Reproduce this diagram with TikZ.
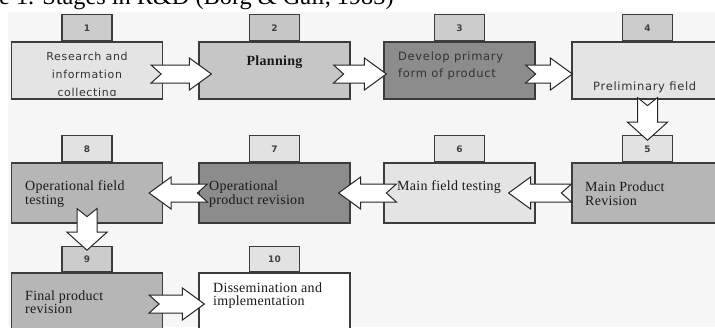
\documentclass[tikz,border=0pt]{standalone}
\usepackage{fontspec}
\setmainfont{Liberation Serif}
\newfontfamily\boxsans[LetterSpace=6]{DejaVu Sans}
\newfontfamily\boxserif[LetterSpace=2]{Liberation Serif}
\newfontfamily\tabsans{DejaVu Sans}
\usetikzlibrary{positioning,calc}

\definecolor{bgpaper}{HTML}{F6F6F6}
\definecolor{lightfill}{HTML}{E4E4E4}
\definecolor{midfill}{HTML}{C6C6C6}
\definecolor{greyfill}{HTML}{B6B6B6}
\definecolor{darkfill}{HTML}{8C8C8C}
\definecolor{tabfill}{HTML}{CCCCCC}
\definecolor{tablight}{HTML}{E2E2E2}
\definecolor{edge}{HTML}{3C3C3C}

% block arrow with a notched tail, from #1 to #2
\def\aw{9pt}\def\ah{16pt}\def\al{22pt}\def\an{10pt}
\newcommand\blockarr[2]{%
  \draw[arrowbody] let \p1=(#1), \p2=(#2),
    \n1={atan2(\y2-\y1,\x2-\x1)}, \n2={veclen(\x2-\x1,\y2-\y1)} in
    [shift={(\p1)}, rotate=\n1]
    (0pt,-\aw) -- (\n2-\al,-\aw) -- (\n2-\al,-\ah) -- (\n2,0pt)
    -- (\n2-\al,\ah) -- (\n2-\al,\aw) -- (0pt,\aw) -- (\an,0pt) -- cycle;}

\tikzset{
  stage/.style={draw=edge, line width=1.2pt, minimum width=151pt,
    minimum height=57pt, inner sep=0pt},
  tabbox/.style={draw=edge, line width=1.2pt, minimum width=50pt,
    minimum height=26pt, inner sep=0pt, text=black!75,
    font=\tabsans\bfseries\fontsize{9}{9}\selectfont},
  arrowbody/.style={draw=black!85, line width=1pt, fill=white},
  sanslabel/.style={inner sep=0pt, anchor=north west, align=left,
    text=black!80, font=\boxsans\fontsize{11.5}{17}\selectfont},
  seriflabel/.style={inner sep=0pt, anchor=north west, align=left,
    text=black!90, font=\boxserif\fontsize{14}{14}\selectfont},
}

\begin{document}
\begin{tikzpicture}[x=1pt,y=-1pt]
  \useasboundingbox (0,0) rectangle (715,327);
  \clip (0,0) rectangle (715,327);

  % caption, cut off at the top
  \node (cap)[anchor=base west, inner sep=0pt, font=\fontsize{24.3}{24.3}\selectfont]
    at (-1,4.5) {e 1. Stages in R\&D (Borg \& Gall, 1983)};
  \fill[bgpaper] (8,12) rectangle (715,327);

  % stages
  \node (s1)[stage, fill=lightfill] at (87,70.5) {};
  \node (s2)[stage, fill=midfill] at (274.5,70.5) {};
  \node (s3)[stage, fill=darkfill] at (459.5,70.5) {};
  \node (s4)[stage, fill=lightfill] at (647.5,70.5) {};
  \node (s5)[stage, fill=greyfill, minimum height=60pt] at (647.5,193) {};
  \node (s6)[stage, fill=lightfill, minimum height=60pt] at (459.5,193) {};
  \node (s7)[stage, fill=darkfill, minimum height=60pt] at (274.5,193) {};
  \node (s8)[stage, fill=greyfill, minimum height=60pt] at (87,193) {};
  \node (s9)[stage, fill=greyfill, minimum height=80pt] at (87,313) {};
  \node (s10)[stage, fill=white, minimum height=80pt] at (274.5,313) {};

  % number tabs
  \node (n1)[tabbox, fill=tabfill, above=0pt of s1] {1};
  \node (n2)[tabbox, fill=midfill, above=0pt of s2] {2};
  \node (n3)[tabbox, fill=tabfill, above=0pt of s3] {3};
  \node (n4)[tabbox, fill=tabfill, above=0pt of s4] {4};
  \node (n5)[tabbox, fill=tablight, above=0pt of s5] {5};
  \node (n6)[tabbox, fill=tablight, above=0pt of s6] {6};
  \node (n7)[tabbox, fill=tablight, above=0pt of s7] {7};
  \node (n8)[tabbox, fill=tablight, above=0pt of s8] {8};
  \node (n9)[tabbox, fill=tabfill, above=0pt of s9, minimum height=25pt] {9};
  \node (n10)[tabbox, fill=tablight, above=0pt of s10, minimum height=25pt] {10};

  % arrow ends
  \coordinate (a1) at ([shift={(-12,3.5)}]s1.east);
  \coordinate (b2) at ([shift={(13,3.5)}]s2.west);
  \coordinate (a2) at ([shift={(-17,3.5)}]s2.east);
  \coordinate (b3) at ([shift={(3,3.5)}]s3.west);
  \coordinate (a3) at ([shift={(-10,3.5)}]s3.east);
  \coordinate (b4) at ([shift={(1,3.5)}]s4.west);
  \coordinate (a4) at ([yshift=2pt]s4.south);
  \coordinate (b5) at ([yshift=-5pt]n5.north);
  \coordinate (a5) at (s5.west);
  \coordinate (b6) at ([xshift=-27pt]s6.east);
  \coordinate (a6) at ([xshift=13pt]s6.west);
  \coordinate (b7) at ([xshift=-12pt]s7.east);
  \coordinate (a7) at ([xshift=9pt]s7.west);
  \coordinate (b8) at ([xshift=-14pt]s8.east);
  \coordinate (a8) at ([yshift=15pt]s8.south);
  \coordinate (b9) at ([yshift=-4pt]n9.north);
  \coordinate (a9) at ([shift={(-14,-9)}]s9.east);
  \coordinate (b10) at ([shift={(6,-9)}]s10.west);

  \blockarr{a1}{b2}
  \blockarr{a2}{b3}
  \blockarr{a3}{b4}
  {\def\aw{10pt}\def\ah{20pt}\def\al{18pt}\def\an{8pt}
   \blockarr{a4}{b5}
   \blockarr{a8}{b9}}
  \blockarr{a5}{b6}
  \blockarr{a6}{b7}
  \blockarr{a7}{b8}
  \blockarr{a9}{b10}

  % texts
  \begin{scope}
    \clip (12,42) rectangle (162,95);
    \node (l1)[sanslabel, anchor=north, align=center,
      font=\boxsans\fontsize{11}{18}\selectfont] at (87,51.5)
      {Research and\\information\\collecting};
  \end{scope}
  \node (l2)[seriflabel, anchor=north, font=\boxserif\bfseries\fontsize{14}{14}\selectfont]
    at (274.5,55.5) {Planning};
  \node (l3)[sanslabel] at (398,51.3) {Develop primary\\form of product};
  \node (l4)[sanslabel] at (593,81.3) {Preliminary field};
  \node (l5)[seriflabel] at (585,181.5) {Main Product\\Revision};
  \node (l6)[seriflabel] at (397,180.5) {Main field testing};
  \node (l7)[seriflabel] at (209,180.5) {Operational\\product revision};
  \node (l8)[seriflabel] at (25,180.5) {Operational field\\testing};
  \node (l9)[seriflabel, font=\boxserif\fontsize{14}{13}\selectfont]
    at (25,290.5) {Final product\\revision};
  \node (l10)[seriflabel, font=\boxserif\fontsize{14}{13}\selectfont]
    at (213,282.5) {Dissemination and\\implementation};
\end{tikzpicture}
\end{document}
